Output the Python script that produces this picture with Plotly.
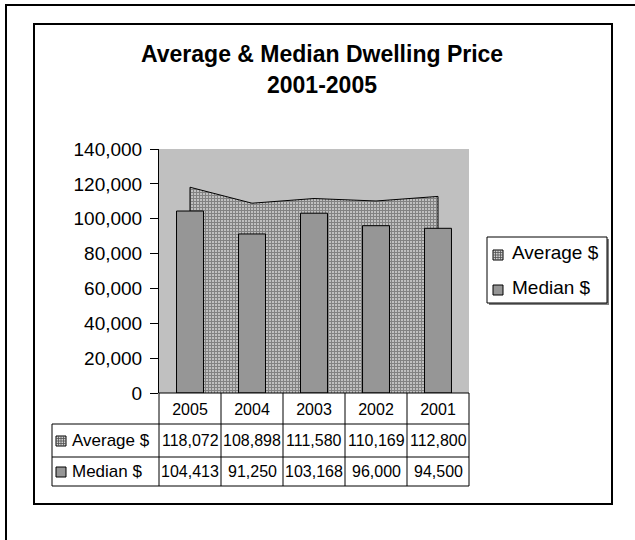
import plotly.graph_objects as go

categories = ["2005", "2004", "2003", "2002", "2001"]
average = [118072, 108898, 111580, 110169, 112800]
median = [104413, 91250, 103168, 96000, 94500]
series_names = ["Average $", "Median $"]
title_lines = ["Average & Median Dwelling Price", "2001-2005"]

W, H = 635, 540
L, R, T, B = 159, 469, 149, 393  # plot area pixel box
FONT = "Liberation Sans, Arial, sans-serif"
PATTERN = dict(shape="+", fgcolor="#1e1e1e", bgcolor="#e6e6e6", size=3, solidity=0.7)


def X(px):
    return (px - L) / (R - L)


def Y(py):
    return (B - py) / (B - T)


fig = go.Figure()

# Average area (closed polygon down to the axis baseline)
area_x = [categories[0]] + categories + [categories[-1]]
area_y = [0] + average + [0]
fig.add_trace(go.Scatter(
    x=area_x, y=area_y, name=series_names[0], mode="lines",
    fill="toself", fillcolor="white", fillpattern=PATTERN,
    line=dict(color="black", width=1),
    xaxis="x", yaxis="y", hoverinfo="skip", showlegend=False,
))

# Median bars (on overlay axis so they are drawn above the area)
fig.add_trace(go.Bar(
    x=categories, y=median, name=series_names[1],
    marker=dict(color="#969696", line=dict(color="black", width=1)),
    xaxis="x", yaxis="y2", showlegend=False,
))

shapes = []
# outer page frame and chart frame
shapes.append(dict(type="rect", xref="paper", yref="paper", x0=X(6), y0=Y(5), x1=X(700), y1=Y(600),
                   line=dict(color="black", width=2), layer="below"))
shapes.append(dict(type="rect", xref="paper", yref="paper", x0=X(34), y0=Y(24), x1=X(612), y1=Y(504),
                   line=dict(color="black", width=2), layer="below"))

# table grid
col_w = (R - L) / len(categories)
for yy in [424, 457, 486]:
    shapes.append(dict(type="line", xref="paper", yref="paper", x0=X(52), x1=X(R), y0=Y(yy), y1=Y(yy),
                       line=dict(color="black", width=1)))
shapes.append(dict(type="line", xref="paper", yref="paper", x0=X(L), x1=X(R), y0=Y(B), y1=Y(B),
                   line=dict(color="black", width=1)))
shapes.append(dict(type="line", xref="paper", yref="paper", x0=X(52), x1=X(52), y0=Y(424), y1=Y(486),
                   line=dict(color="black", width=1)))
for i in range(len(categories) + 1):
    xx = L + i * col_w
    shapes.append(dict(type="line", xref="paper", yref="paper", x0=X(xx), x1=X(xx), y0=Y(B), y1=Y(486),
                       line=dict(color="black", width=1)))


def grid_symbol(x0, y0, x1, y1, step=2.5):
    parts = []
    y = y0 + step
    while y < y1 - 0.5:
        parts.append(f"M{X(x0)},{Y(y)} L{X(x1)},{Y(y)}")
        y += step
    x = x0 + step
    while x < x1 - 0.5:
        parts.append(f"M{X(x)},{Y(y0)} L{X(x)},{Y(y1)}")
        x += step
    return " ".join(parts)


def key_symbols(x0, y_avg, y_med, size):
    out = []
    out.append(dict(type="rect", xref="paper", yref="paper", x0=X(x0), x1=X(x0 + size),
                    y0=Y(y_avg), y1=Y(y_avg + size), fillcolor="#d0d0d0", line=dict(color="black", width=1)))
    out.append(dict(type="path", xref="paper", yref="paper", path=grid_symbol(x0, y_avg, x0 + size, y_avg + size),
                    line=dict(color="#505050", width=0.8)))
    out.append(dict(type="rect", xref="paper", yref="paper", x0=X(x0), x1=X(x0 + size),
                    y0=Y(y_med), y1=Y(y_med + size), fillcolor="#969696", line=dict(color="black", width=1)))
    return out


# table row key symbols
shapes += key_symbols(56, 436, 467, 10)

# legend box (with drop shadow) and symbols
shapes.append(dict(type="rect", xref="paper", yref="paper", x0=X(489), x1=X(609), y0=Y(239), y1=Y(305),
                   fillcolor="#808080", line=dict(width=0)))
shapes.append(dict(type="rect", xref="paper", yref="paper", x0=X(487), x1=X(607), y0=Y(237), y1=Y(303),
                   fillcolor="white", line=dict(color="black", width=1)))
shapes += key_symbols(493, 250, 285, 10)

annotations = []
# title
for txt, yy in zip(title_lines, [54, 85]):
    annotations.append(dict(xref="paper", yref="paper", x=X(322), y=Y(yy), text=f"<b>{txt}</b>",
                            showarrow=False, xanchor="center", yanchor="middle",
                            font=dict(size=23, color="black", family=FONT)))
# legend labels
for name, yy in zip(series_names, [252.5, 287]):
    annotations.append(dict(xref="paper", yref="paper", x=X(510), y=Y(yy), text=name, showarrow=False,
                            xanchor="left", yanchor="middle", font=dict(size=19, color="black", family=FONT)))
# table
row_y = [440.5, 471.5]
for name, yy in zip(series_names, row_y):
    annotations.append(dict(xref="paper", yref="paper", x=X(70), y=Y(yy), text=name, showarrow=False,
                            xanchor="left", yanchor="middle", font=dict(size=17, color="black", family=FONT)))
for vals, yy in zip([average, median], row_y):
    for i, v in enumerate(vals):
        annotations.append(dict(xref="paper", yref="paper", x=X(L + (i + 0.5) * col_w), y=Y(yy),
                                text=f"{v:,}", showarrow=False, xanchor="center", yanchor="middle",
                                font=dict(size=16, color="black", family=FONT)))

fig.update_layout(
    width=W, height=H,
    margin=dict(l=L, r=W - R, t=T, b=H - B, pad=0),
    paper_bgcolor="white", plot_bgcolor="#c0c0c0",
    font=dict(family=FONT, color="black"),
    bargap=0.565,
    showlegend=False,
    xaxis=dict(type="category", categoryorder="array", categoryarray=categories,
               range=[-0.5, len(categories) - 0.5], showgrid=False, zeroline=False,
               showline=False, ticks="", tickfont=dict(size=16, color="black"),
               ticklabelstandoff=5, fixedrange=True),
    yaxis=dict(range=[0, 140000], dtick=20000, tickformat=",", showgrid=False, zeroline=False,
               showline=True, linecolor="black", linewidth=1, ticks="outside", ticklen=8,
               tickcolor="black", tickfont=dict(size=19, color="black"), ticklabelstandoff=4),
    yaxis2=dict(range=[0, 140000], overlaying="y", visible=False),
    shapes=shapes, annotations=annotations,
)

fig.write_html("out.html")
